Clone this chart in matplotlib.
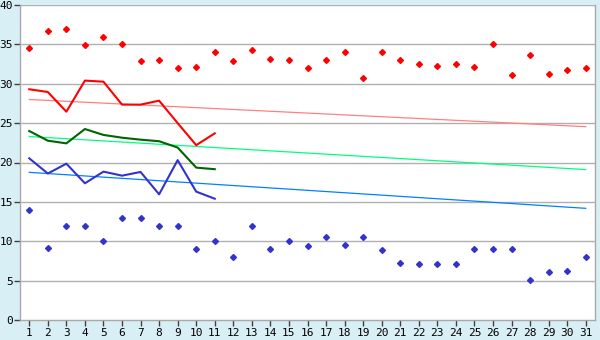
import matplotlib.pyplot as plt

# Дні місяця
days = list(range(1, 32))

# Рекордні максимуми (червоні ромби)
record_high = [34.5, 36.65, 36.9, 34.9, 36.0, 35.05, 32.85, 32.97, 31.96, 32.1,
               34.0, 32.85, 34.25, 33.2, 32.97, 31.96, 32.97, 34.0, 30.7, 34.0,
               32.97, 32.46, 32.2, 32.46, 32.08, 35.0, 31.07, 33.6, 31.2, 31.8,
               31.96]

# Рекордні мінімуми (сині ромби)
record_low = [14.0, 9.1, 12.0, 12.0, 10.0, 13.0, 13.0, 11.9, 11.9, 8.97,
              10.0, 7.96, 11.9, 9.0, 10.0, 9.35, 10.5, 9.48, 10.5, 8.85,
              7.2, 7.07, 7.07, 7.07, 8.97, 9.0, 9.0, 5.04, 6.05, 6.18,
              7.96]

# Поточні значення (дні 1-11)
cur_days = days[:11]
cur_high = [29.3, 28.95, 26.45, 30.4, 30.26, 27.35, 27.35, 27.85, 25.0, 22.2, 23.7]
cur_mean = [24.0, 22.77, 22.43, 24.25, 23.5, 23.15, 22.9, 22.7, 21.9, 19.35, 19.15]
cur_low = [20.53, 18.6, 19.85, 17.36, 18.84, 18.33, 18.8, 15.96, 20.3, 16.3, 15.4]

# Лінії норми (початок і кінець місяця)
trend_days = [1, 31]
norm_high = [28.0, 24.55]
norm_mean = [23.3, 19.1]
norm_low = [18.75, 14.18]

bg = '#d9eff6'
fig = plt.figure(figsize=(6, 3.4), dpi=100, facecolor=bg)
ax = fig.add_axes([20 / 600, 20 / 340, 575 / 600, 315 / 340])
ax.set_facecolor('white')

# Сітка
for y in range(5, 41, 5):
    ax.axhline(y, color='#b0b0b0', linewidth=1.0, zorder=0)

# Норми
ax.plot(trend_days, norm_high, color='#ff8080', linewidth=0.9, zorder=2)
ax.plot(trend_days, norm_mean, color='#00ff80', linewidth=0.9, zorder=2)
ax.plot(trend_days, norm_low, color='#0080ff', linewidth=0.9, zorder=2)

# Поточні
ax.plot(cur_days, cur_high, color='#ff0000', linewidth=1.5, zorder=3)
ax.plot(cur_days, cur_mean, color='#006400', linewidth=1.5, zorder=3)
ax.plot(cur_days, cur_low, color='#3333cc', linewidth=1.5, zorder=3)

# Рекорди
ax.plot(days, record_high, linestyle='none', marker='D', markersize=3.0,
        color='#ff0000', zorder=4)
ax.plot(days, record_low, linestyle='none', marker='D', markersize=3.0,
        color='#3333cc', zorder=4)

ax.set_xlim(0.5, 31.5)
ax.set_ylim(0, 40)
ax.set_xticks(days)
ax.set_yticks(range(0, 41, 5))

for side in ['left', 'bottom', 'right']:
    ax.spines[side].set_color('#a8a8a8')
    ax.spines[side].set_linewidth(1.0)
ax.spines['top'].set_visible(False)

ax.tick_params(axis='both', colors='#404040', length=4, width=1.0,
               labelsize=8, labelcolor='black')
ax.tick_params(axis='x', pad=2)
ax.tick_params(axis='y', pad=1)
for lbl in ax.get_xticklabels() + ax.get_yticklabels():
    lbl.set_fontfamily('DejaVu Sans Mono')

fig.savefig('out.png', dpi=100, facecolor=bg)
